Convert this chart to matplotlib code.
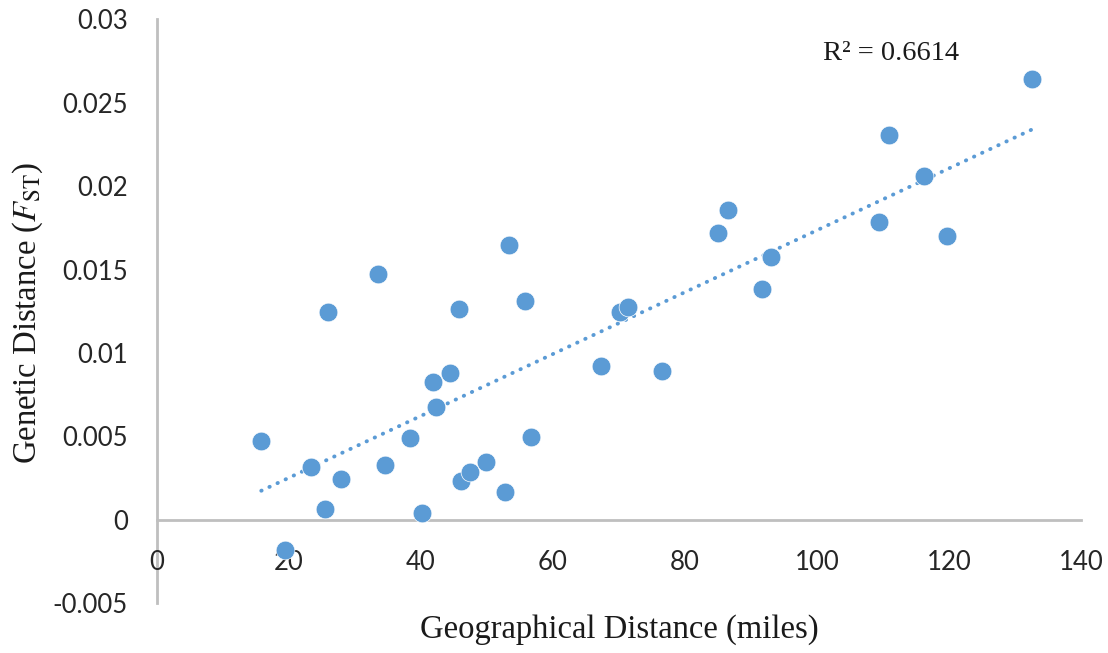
import numpy as np
import matplotlib
matplotlib.use("Agg")
import matplotlib.pyplot as plt

# Data
geo_miles = [15.8, 19.4, 23.3, 25.5, 25.9, 27.9, 33.5, 34.6, 38.4, 40.2,
             41.8, 42.2, 44.4, 45.8, 46.0, 47.4, 49.8, 52.7, 53.3, 55.7,
             56.7, 67.2, 70.2, 71.3, 76.5, 85.0, 86.5, 91.7, 93.0, 109.4,
             110.9, 116.2, 119.7, 132.6]
fst = [0.00470, -0.00183, 0.00316, 0.00063, 0.01245, 0.00242, 0.01474, 0.00327, 0.00487, 0.00037,
       0.00825, 0.00677, 0.00881, 0.01264, 0.00231, 0.00287, 0.00345, 0.00167, 0.01649, 0.01313,
       0.00495, 0.00923, 0.01245, 0.01273, 0.00891, 0.01718, 0.01857, 0.01382, 0.01574, 0.01788,
       0.02306, 0.02064, 0.01699, 0.02645]
r2_text = "R\u00b2 = 0.6614"
x_ticks = [0, 20, 40, 60, 80, 100, 120, 140]
y_ticks = [-0.005, 0, 0.005, 0.01, 0.015, 0.02, 0.025, 0.03]
y_tick_labels = ["-0.005", "0", "0.005", "0.01", "0.015", "0.02", "0.025", "0.03"]

plt.rcParams['mathtext.fontset'] = 'stix'
blue = '#5B9BD5'
gray = '#BFBFBF'

fig = plt.figure(figsize=(11.08, 6.53), dpi=100)
ax = fig.add_axes([157/1108, 1-603/653, (1081-157)/1108, (603-19.5)/653])

ax.set_xlim(0, 140)
ax.set_ylim(-0.005, 0.03)

ax.scatter(geo_miles, fst, s=182, color=blue, edgecolor='white', linewidth=0.5, zorder=3)

# linear trendline computed from data
xa = np.array(geo_miles)
ya = np.array(fst)
slope, intercept = np.polyfit(xa, ya, 1)
xt = np.array([xa.min(), xa.max()])
ax.plot(xt, slope*xt + intercept, color=blue, lw=2.8, linestyle=(0, (0.1, 2.2)),
        dash_capstyle='round', zorder=2)

for s in ['top', 'right']:
    ax.spines[s].set_visible(False)
ax.spines['left'].set_position(('data', 0))
ax.spines['bottom'].set_position(('data', 0))
for s in ['left', 'bottom']:
    ax.spines[s].set_color(gray)
    ax.spines[s].set_linewidth(2.0)
    ax.spines[s].set_zorder(1)

ax.set_xticks(x_ticks)
ax.set_xticklabels([str(t) for t in x_ticks])
ax.set_yticks(y_ticks)
ax.set_yticklabels(y_tick_labels)
ax.tick_params(axis='both', length=0, labelsize=18.5, colors='#404040', labelcolor='#262626')
ax.tick_params(axis='x', pad=22)
ax.tick_params(axis='y', pad=21)
for lab in ax.get_xticklabels() + ax.get_yticklabels():
    lab.set_family('Lato')

fig.text(619/1108, 1-630/653, "Geographical Distance (miles)", ha='center', va='center',
         fontsize=23.5, family='Liberation Serif', color='#1a1a1a')
fig.text(28/1108, 1-313/653, r"Genetic Distance ($F_{\mathrm{ST}}$)", ha='center', va='center',
         rotation=90, fontsize=23.5, family='Liberation Serif', color='#1a1a1a')
fig.text(823/1108, 1-54/653, r2_text, ha='left', va='center', fontsize=20.5,
         family='Liberation Serif', color='#1a1a1a')

fig.savefig('out.png', dpi=100)
